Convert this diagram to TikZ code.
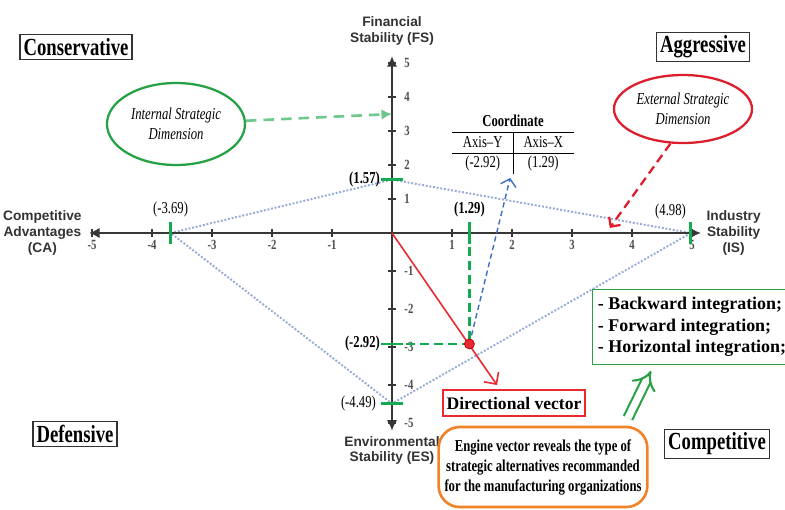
\documentclass[tikz,border=0pt]{standalone}
\usepackage{fontspec}
\setmainfont{Liberation Serif}
\setsansfont{Liberation Sans}
\newfontfamily\condfont[FakeStretch=0.76,Ligatures=TeX]{Liberation Serif}
\usetikzlibrary{positioning,shapes.geometric,arrows.meta}

\definecolor{axisgray}{RGB}{55,55,55}
\definecolor{markgreen}{RGB}{20,170,80}
\definecolor{boxgreen}{RGB}{40,160,70}
\definecolor{lightgreen}{RGB}{110,200,140}
\definecolor{ellred}{RGB}{220,30,45}
\definecolor{vecred}{RGB}{235,40,45}
\definecolor{boxorange}{RGB}{240,130,40}
\definecolor{quadblue}{RGB}{150,170,215}
\definecolor{dashblue}{RGB}{60,110,200}

\tikzset{
  quadrant/.style={draw=black!80, line width=0.7pt, inner sep=2pt,
    font=\condfont\bfseries\fontsize{14}{16}\selectfont},
  axislabel/.style={font=\sffamily\bfseries\fontsize{7.8}{9}\selectfont,
    text=black!80, align=center, inner sep=1pt},
  ticklabel/.style={font=\condfont\bfseries\fontsize{8}{8}\selectfont,
    text=black!70, inner sep=1pt},
  marker/.style={draw=markgreen, line width=1.6pt},
  coordlabel/.style={font=\condfont\fontsize{9.5}{10}\selectfont, inner sep=1pt},
  dimension/.style={ellipse, draw, line width=1.3pt, inner sep=1pt,
    font=\condfont\itshape\fontsize{9.5}{11.5}\selectfont, align=center},
}

\begin{document}
\begin{tikzpicture}
\useasboundingbox (-7.84,-5.52) rectangle (7.86,4.66);

% Upper half of the matrix (FS side)
\begin{scope}[x=1.2cm,y=0.68cm]
\coordinate (O) at (0,0);
\coordinate (FS) at (0,5.2);
\coordinate (CA) at (-5.05,0);
\coordinate (IS) at (5.15,0);
\coordinate (fs) at (0,1.57);
\coordinate (ca) at (-3.69,0);
\coordinate (is) at (4.98,0);
\coordinate (ix) at (1.29,0);
\coordinate (intTip) at (0,3.5);
\coordinate (extTip) at (3.63,0.15);
\coordinate (blueTip) at (1.97,1.62);
\foreach \y in {1,...,5}
  \draw[axisgray, line width=0.6pt] (-0.07,\y) -- (0.07,\y)
    node[ticklabel, right=0.12cm] (fsTick\y) {\y};
\foreach \x in {-5,-4,-3,-2,-1,1,2,3,4,5}
  \draw[axisgray, line width=0.6pt] (\x,-0.12) -- (\x,0.12);
\foreach \x in {-5,-4,-3,-2,-1,1,2,3,4,5}
  \node[ticklabel, below=0.1cm] (isTick\x) at (\x,0) {\x};
\end{scope}

% Lower half of the matrix (ES side)
\begin{scope}[x=1.2cm,y=0.76cm]
\coordinate (ES) at (0,-5.2);
\coordinate (es) at (0,-4.49);
\coordinate (ey) at (0,-2.92);
\coordinate (P) at (1.29,-2.92);
\coordinate (vecTip) at (1.75,-4.0);
\foreach \y in {-1,-2,-3,-4,-5}
  \draw[axisgray, line width=0.6pt] (-0.07,\y) -- (0.07,\y)
    node[ticklabel, right=0.12cm] (esTick\y) {\y};
\end{scope}

% Strategic position area
\draw[quadblue, densely dotted, line width=1.1pt] (ca) -- (fs) -- (is) -- (es) -- cycle;

% Axes
\draw[axisgray, line width=1.4pt, {Latex[length=6pt,width=6pt]}-{Latex[length=6pt,width=6pt]}] (CA) -- (IS);
\draw[axisgray, line width=1.4pt, {Latex[length=6pt,width=6pt]}-{Latex[length=6pt,width=6pt]}] (ES) -- (FS);
\node[axislabel, above=5pt of FS] (fsLab) {Financial\\Stability (FS)};
\node[axislabel, left=3pt of CA] (caLab) {Competitive\\Advantages\\(CA)};
\node[axislabel, right=2pt of IS] (isLab) {Industry\\Stability\\(IS)};
\node[axislabel, below=2pt of ES] (esLab) {Environmental\\Stability (ES)};

% Average values on the axes
\draw[marker] ([yshift=-0.22cm]ca) -- ([yshift=0.22cm]ca)
  node[coordlabel, above=1pt] (caVal) {(-3.69)};
\draw[marker] ([yshift=-0.22cm]ix) -- ([yshift=0.22cm]ix)
  node[coordlabel, above=1pt, font=\condfont\bfseries\fontsize{9.5}{10}\selectfont] (ixVal) {(1.29)};
\draw[marker] ([yshift=-0.22cm]is) -- ([yshift=0.22cm]is)
  node[coordlabel, anchor=south east, xshift=-1pt] (isVal) {(4.98)};
\draw[marker] ([xshift=-0.22cm]fs) -- ([xshift=0.22cm]fs);
\node[coordlabel, left=0.2cm of fs, font=\condfont\bfseries\fontsize{9.5}{10}\selectfont] (fsVal) {(1.57)};
\draw[marker] ([xshift=-0.22cm]ey) -- ([xshift=0.22cm]ey);
\node[coordlabel, left=0.2cm of ey, font=\condfont\bfseries\fontsize{9.5}{10}\selectfont] (eyVal) {(-2.92)};
\draw[marker] ([xshift=-0.22cm]es) -- ([xshift=0.22cm]es);
\node[coordlabel, left=0.28cm of es] (esVal) {(-4.49)};

% Projection of the resulting point
\draw[markgreen, line width=1.5pt, dash pattern=on 5pt off 3pt] (ix) -- (P);
\draw[markgreen, line width=1.5pt, dash pattern=on 5pt off 3pt] (ey) -- (P);

% Directional vector
\draw[vecred, line width=0.9pt, -{Straight Barb[length=5pt,width=10pt]}] (O) -- (vecTip);
\draw[dashblue, line width=0.8pt, densely dashed, -{Straight Barb[length=4pt,width=9pt]}] (P) -- (blueTip);
\filldraw[fill=vecred, draw=red!70!black, line width=0.4pt] (P) circle (0.1);

% Quadrants
\node[quadrant] (cons) at (-6.32,3.72) {Conservative};
\node[quadrant] (aggr) at (6.22,3.72) {Aggressive};
\node[quadrant] (defe) at (-6.34,-4.02) {Defensive};
\node[quadrant] (comp) at (6.5,-4.22) {Competitive};

% Dimensions
\node[dimension, draw=boxgreen, minimum width=2.76cm, minimum height=1.64cm] (intDim) at (-4.32,2.18) {Internal Strategic\\Dimension};
\node[dimension, draw=ellred, minimum width=2.76cm, minimum height=1.36cm] (extDim) at (5.82,2.48) {External Strategic\\Dimension};
\draw[lightgreen, line width=1.5pt, dash pattern=on 6pt off 4pt, -{Latex[length=6pt,width=6pt]}] (intDim) -- (intTip);
\draw[ellred, line width=1.3pt, dash pattern=on 5pt off 3pt, -{Straight Barb[length=4pt,width=8pt]}] (extDim.250) -- (extTip);

% Coordinate table
\node[inner sep=0pt, font=\condfont\fontsize{9.5}{11.5}\selectfont] (coord) at (2.42,1.8)
  {\begin{tabular}{c|c}
   \multicolumn{2}{c}{\textbf{Coordinate}}\\\hline
   Axis\textendash Y & Axis\textendash X\\\hline
   (-2.92) & (1.29)
   \end{tabular}};

% Notes
\node[draw=vecred, line width=0.8pt, inner sep=2pt, minimum width=2.76cm, minimum height=0.52cm,
  font=\bfseries\fontsize{10}{12}\selectfont] (dirVec) at (2.44,-3.4) {Directional vector};
\node[draw=boxorange, line width=1.5pt, rounded corners=12pt, align=center,
  minimum width=3.94cm, minimum height=1.6cm,
  font=\condfont\bfseries\fontsize{9.5}{11.4}\selectfont] (engine) at (3.02,-4.68)
  {Engine vector reveals the type of\\strategic alternatives recommanded\\for the manufacturing organizations};
\node[draw=boxgreen, line width=0.8pt, align=left, inner sep=3pt, minimum width=3.76cm, minimum height=1.5cm,
  font=\bfseries\fontsize{10.2}{12.2}\selectfont] (alts) at (6.0,-1.88)
  {- Backward integration;\\- Forward integration;\\- Horizontal integration;};
\coordinate (upFrom) at (4.72,-3.7);
\coordinate (upTo) at (5.18,-2.76);
\draw[boxgreen, line width=1.2pt, double=white, double distance=4pt, -{Implies[length=7pt]}] (upFrom) -- (upTo);
\end{tikzpicture}
\end{document}
